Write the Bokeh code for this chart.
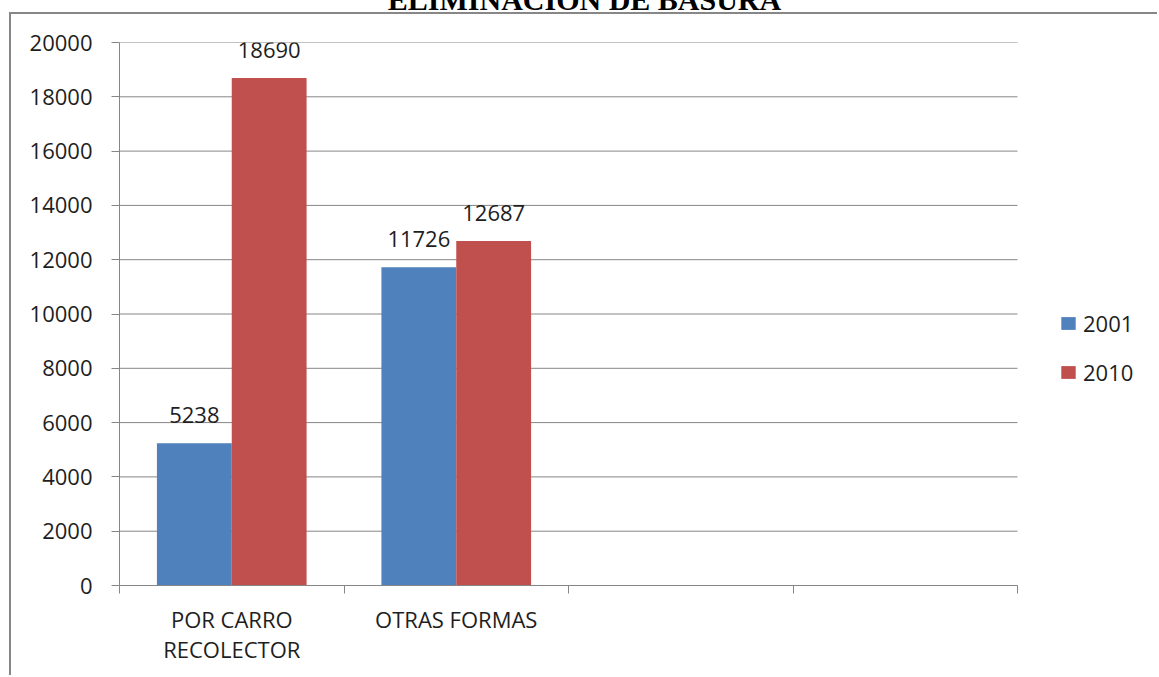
from bokeh.plotting import figure
from bokeh.models import (ColumnDataSource, Range1d, FixedTicker, Legend, LegendItem, Div)
from bokeh.layouts import column
from bokeh.embed import file_html
from bokeh.resources import INLINE
from bokeh.core.properties import value

# ---- data ----
categories = ["POR CARRO\nRECOLECTOR", "OTRAS FORMAS", "", ""]
series_names = ["2001", "2010"]
values_2001 = [5238, 11726, None, None]
values_2010 = [18690, 12687, None, None]
y_ticks = [0, 2000, 4000, 6000, 8000, 10000, 12000, 14000, 16000, 18000, 20000]
title_text = "ELIMINACIÓN DE BASURA"

BLUE = "#4F81BD"
RED = "#C0504D"
GRID = "#868686"
BORDER = "#878787"
TXT = "#1e1e1e"
FONT = "Open Sans"

# page geometry (pixels)
OX, OY = 11, 14                       # canvas origin on the page (after the box border)
W, H = 1159 - OX, 677 - OY
F_LEFT, F_TOP, F_BOTTOM = 119, 42, 585
CAT_RIGHT, F_RIGHT = 1017, 1150
n = len(categories)
x_end = n * (F_RIGHT - F_LEFT) / (CAT_RIGHT - F_LEFT)

p = figure(width=W, height=H, output_backend="svg", toolbar_location=None,
           x_range=Range1d(0, x_end), y_range=Range1d(0, 20000),
           min_border_left=F_LEFT - OX, min_border_right=1159 - F_RIGHT,
           min_border_top=F_TOP - OY, min_border_bottom=677 - F_BOTTOM,
           styles={"margin-left": "9px", "border-left": f"2px solid {BORDER}",
                   "border-top": f"2px solid {BORDER}"})
p.outline_line_color = None
p.background_fill_color = "white"
p.border_fill_alpha = 0

# horizontal grid lines spanning only the category area
p.segment(x0=[0] * len(y_ticks), x1=[n] * len(y_ticks), y0=y_ticks, y1=y_ticks,
          line_color=GRID, line_width=1)

def bars(vals, off):
    xs, tops, labels = [], [], []
    for i, v in enumerate(vals):
        if v is None:
            continue
        xs.append(i + off)
        tops.append(v)
        labels.append(str(v))
    return ColumnDataSource(dict(x=xs, top=tops, label=labels))

s1 = bars(values_2001, 1 / 3)
s2 = bars(values_2010, 2 / 3)
r1 = p.vbar(x="x", top="top", width=1 / 3, source=s1, fill_color=BLUE, line_color=None)
r2 = p.vbar(x="x", top="top", width=1 / 3, source=s2, fill_color=RED, line_color=None)

for s in (s1, s2):
    p.text(x="x", y="top", text="label", source=s, text_align="center",
           text_baseline="alphabetic", y_offset=-28, text_font=value(FONT),
           text_font_size="22px", text_color=TXT)

# axes
p.yaxis.ticker = FixedTicker(ticks=y_ticks)
p.yaxis.axis_line_color = GRID
p.yaxis.major_tick_line_color = GRID
p.yaxis.major_tick_out = 8
p.yaxis.major_tick_in = 0
p.yaxis.minor_tick_line_color = None
p.yaxis.major_label_standoff = 19
p.yaxis.major_label_text_font = FONT
p.yaxis.major_label_text_font_size = "22px"
p.yaxis.major_label_text_color = TXT

centers = [i + 0.5 for i in range(n)]
p.xaxis.bounds = (0, n)
p.xaxis.ticker = FixedTicker(ticks=centers, minor_ticks=list(range(n + 1)))
p.xaxis.major_label_overrides = {c: lab for c, lab in zip(centers, categories)}
p.xaxis.major_tick_line_color = None
p.xaxis.major_tick_out = 0
p.xaxis.major_tick_in = 0
p.xaxis.minor_tick_line_color = GRID
p.xaxis.minor_tick_out = 8
p.xaxis.minor_tick_in = 0
p.xaxis.axis_line_color = GRID
p.xaxis.major_label_standoff = 10
p.xaxis.major_label_text_font = FONT
p.xaxis.major_label_text_font_size = "22px"
p.xaxis.major_label_text_color = TXT
p.xaxis.major_label_text_line_height = 1.0

p.xgrid.grid_line_color = None
p.ygrid.grid_line_color = None

legend = Legend(items=[LegendItem(label=series_names[0], renderers=[r1]),
                       LegendItem(label=series_names[1], renderers=[r2])],
                location=(1059 - F_LEFT, F_BOTTOM - 387), orientation="vertical",
                border_line_color=None, background_fill_alpha=0,
                padding=0, margin=0, spacing=19, glyph_width=18, glyph_height=16,
                label_standoff=6, label_height=24,
                label_text_font=FONT, label_text_font_size="22px",
                label_text_color=TXT)
p.add_layout(legend, "center")

title_div = Div(text=title_text, width=1159, height=30,
                styles={"margin-top": "-15px", "margin-bottom": "-3px",
                        "text-align": "center", "font-family": "Liberation Serif",
                        "font-weight": "bold", "font-size": "30px",
                        "line-height": "30px", "color": "black"})

open("out.html", "w").write(file_html(column(title_div, p, spacing=0), INLINE))
